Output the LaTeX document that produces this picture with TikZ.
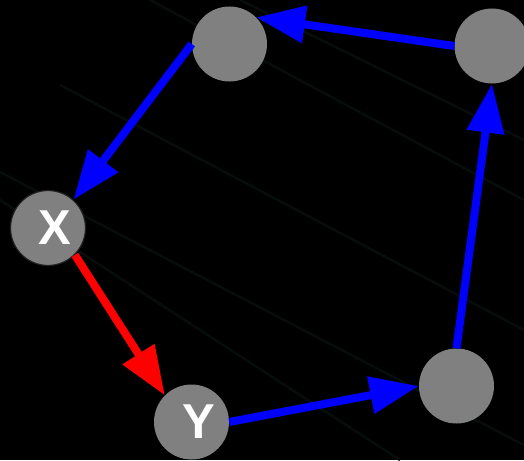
\documentclass[tikz,border=0pt]{standalone}
\usepackage{fontspec}
\setmainfont{Liberation Sans}
\usetikzlibrary{arrows.meta}
\begin{document}
\begin{tikzpicture}[x=1pt,y=-1pt,
  vnode/.style={circle,fill=gray50,minimum size=75pt,inner sep=0pt},
  vlabel/.style={text=white,font=\bfseries\fontsize{49}{49}\selectfont,inner sep=0pt},
  edge/.style={line width=8pt,-{Triangle[length=49pt,width=36pt]}},
  bedge/.style={edge,draw=arrowblue,fill=arrowblue},
  redge/.style={edge,draw=arrowred,fill=arrowred}]
\definecolor{gray50}{RGB}{128,128,128}
\definecolor{arrowblue}{RGB}{0,0,255}
\definecolor{arrowred}{RGB}{255,0,0}
\definecolor{faint}{RGB}{7,13,11}
\fill[black] (0,0) rectangle (524,460);
\useasboundingbox (0,0) rectangle (524,460);
% faint background streaks
\begin{scope}[faint, line width=2.5pt]
\draw (0,172) -- (524,445);
\draw (0,200) -- (400,460);
\draw (150,0) -- (524,200);
\draw (240,0) -- (524,140);
\draw (60,85) -- (524,330);
\end{scope}
\node[vnode] (a) at (229.5,44) {};
\node[vnode] (b) at (492,46) {};
\node[vnode,draw=black!75!gray50,line width=1.2pt] (x) at (48,228) {};
\node[vnode] (y) at (191.5,422) {};
\node[vnode] (c) at (456.5,386) {};
\node[vlabel] (xl) at ([xshift=7pt]x.center) {X};
\node[vlabel] (yl) at ([xshift=7pt]y.center) {Y};
\draw[bedge] (b.west) -- (a.45);
\draw[bedge] (a.west) -- (x.48);
\draw[redge] (x.-45) -- (y.135);
\draw[bedge] (y.east) -- (c.west);
\draw[bedge] (c.north) -- (b.south);
\end{tikzpicture}
\end{document}
